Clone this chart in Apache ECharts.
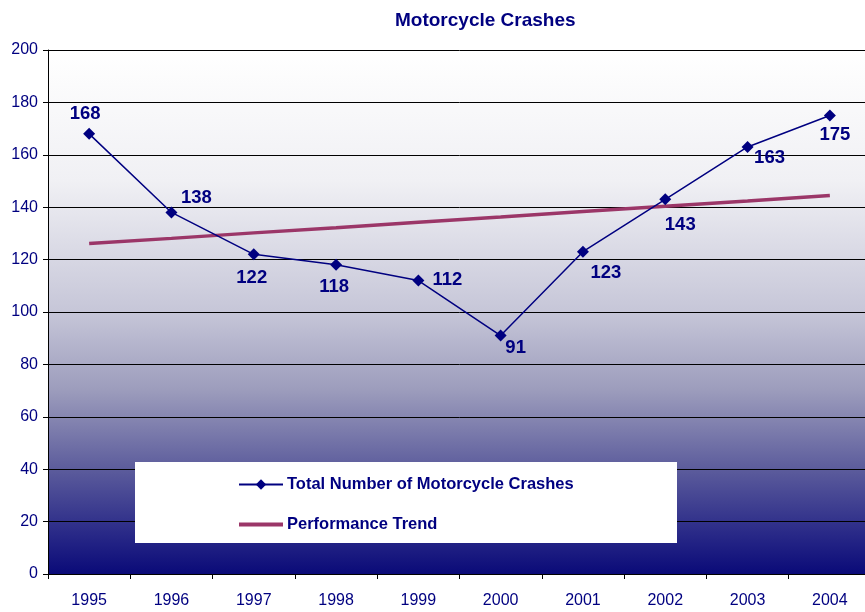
<!DOCTYPE html>
<html>
<head>
<meta charset="utf-8">
<script src="https://cdn.jsdelivr.net/npm/echarts@6/dist/echarts.min.js"></script>
<style>html,body{margin:0;padding:0;background:#fff;overflow:hidden}#c{width:871px;height:612px}</style>
</head>
<body>
<div id="c"></div>
<script>
const years = ['1995','1996','1997','1998','1999','2000','2001','2002','2003','2004'];
const crashes = [168,138,122,118,112,91,123,143,163,175];
const trend = [126.1,128.1,130.2,132.2,134.3,136.3,138.4,140.4,142.4,144.5];
const yTicks = [0,20,40,60,80,100,120,140,160,180,200];
const labelOffsets = [[-4,-20],[25,-15],[-2,24],[-2,22],[29,-1],[15,12],[23,21],[15,26],[22,11],[5,19]];

const navy = '#000080';
const font = 'Liberation Sans, Arial, sans-serif';
const chart = echarts.init(document.getElementById('c'));
chart.setOption({
  animation: false,
  backgroundColor: '#fff',
  title: {
    text: 'Motorcycle Crashes', left: 390, top: 6,
    textStyle: { color: navy, fontFamily: font, fontSize: 19, fontWeight: 'bold' }
  },
  grid: {
    left: 48, right: 0, top: 50, bottom: 38, show: true, borderWidth: 0,
    backgroundColor: { type: 'linear', x: 0, y: 0, x2: 0, y2: 1, colorStops: [
      { offset: 0, color: '#ffffff' },
      { offset: 0.25, color: '#f0f0f4' },
      { offset: 0.5, color: '#c6c6d8' },
      { offset: 0.65, color: '#9c9cbc' },
      { offset: 0.8, color: '#5c5c9c' },
      { offset: 0.92, color: '#2a2a88' },
      { offset: 1, color: '#0a0a78' }
    ] }
  },
  graphic: [{
    type: 'rect', left: 135, top: 462, z: 3,
    shape: { width: 542, height: 81 },
    style: { fill: '#ffffff' }
  }],
  legend: {
    orient: 'vertical', left: 237, top: 476, z: 5, padding: 0,
    itemWidth: 44, itemHeight: 13, itemGap: 23,
    data: [
      { name: 'Total Number of Motorcycle Crashes' },
      { name: 'Performance Trend', itemStyle: { opacity: 0 }, lineStyle: { width: 4 } }
    ],
    textStyle: { color: navy, fontFamily: font, fontSize: 16.5, fontWeight: 'bold', padding: [0, 0, 0, -1] }
  },
  xAxis: {
    type: 'category', data: years, boundaryGap: true,
    axisLine: { lineStyle: { color: '#000', width: 1 } },
    axisTick: { show: true, length: 5, lineStyle: { color: '#000' } },
    axisLabel: { color: navy, fontFamily: font, fontSize: 16, margin: 19 },
    splitLine: { show: false }
  },
  yAxis: {
    type: 'value', min: 0, max: 200, interval: 20,
    axisLine: { show: true, lineStyle: { color: '#000', width: 1 } },
    axisTick: { show: true, length: 5, lineStyle: { color: '#000' } },
    axisLabel: { color: navy, fontFamily: font, fontSize: 16, margin: 10,
      formatter: v => yTicks.includes(v) ? String(v) : '' },
    splitLine: { show: true, lineStyle: { color: '#000', width: 1 } }
  },
  series: [
    {
      name: 'Total Number of Motorcycle Crashes', type: 'line', z: 6,
      data: crashes.map((v, i) => ({
        value: v,
        label: { show: true, position: 'inside', offset: labelOffsets[i] }
      })),
      symbol: 'diamond', symbolSize: 12,
      lineStyle: { color: navy, width: 1.5 },
      itemStyle: { color: navy },
      label: { color: navy, fontFamily: font, fontSize: 18.5, fontWeight: 'bold' }
    },
    {
      name: 'Performance Trend', type: 'line', z: 5,
      data: trend, symbol: 'none',
      lineStyle: { color: '#9b3668', width: 3.5 },
      itemStyle: { color: '#9b3668' }
    }
  ]
});
</script>
</body>
</html>
